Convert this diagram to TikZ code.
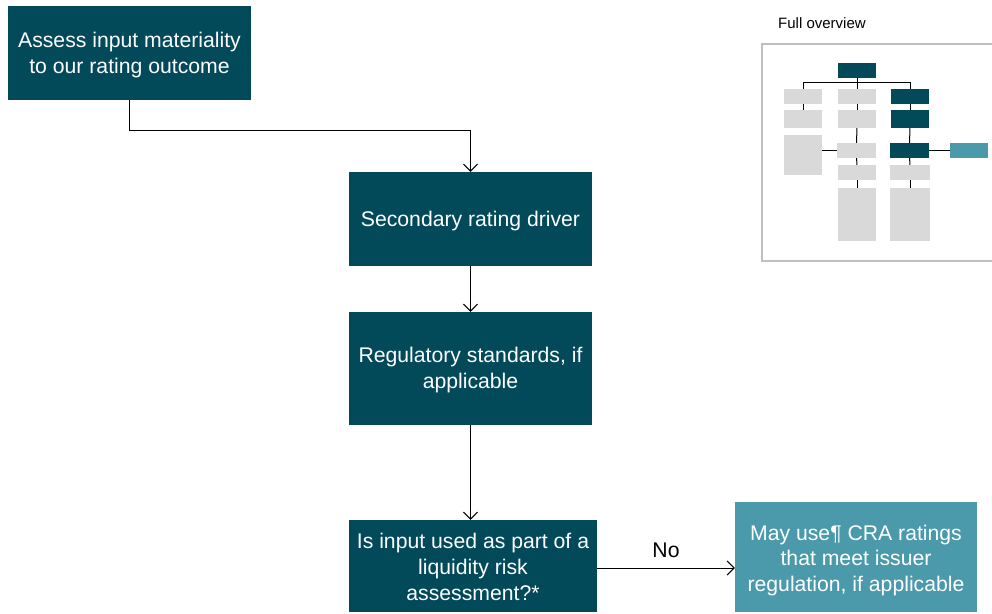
\documentclass[tikz,border=0pt]{standalone}
\usepackage{fontspec}
\setmainfont{Liberation Sans}
\usetikzlibrary{arrows.meta}
\definecolor{dark}{HTML}{02495A}
\definecolor{light}{HTML}{4A9AAB}
\definecolor{gry}{HTML}{D9D9D9}
\definecolor{framec}{HTML}{BFBFBF}
\begin{document}
\begin{tikzpicture}[x=1pt,y=-1pt,
  box/.style={fill=dark, inner sep=0pt},
  txt/.style={text=white, align=center, font=\fontsize{21.2}{25.7}\selectfont, inner sep=0pt},
  arr/.style={-{Straight Barb[length=7pt,width=14pt]}, line width=1pt},
  mini/.style={fill=gry, inner sep=0pt, minimum width=38pt},
  minid/.style={mini, fill=dark},
  link/.style={line width=1pt}]
\useasboundingbox (0,0) rectangle (992,613);
% main flow
\node[box, minimum width=243pt, minimum height=94pt] (A) at (129.5,53) {};
\node[txt] (At) at ([yshift=-2pt]A.center) {Assess input materiality\\to our rating outcome};
\node[box, minimum width=243pt, minimum height=94pt] (B) at (470.5,219) {};
\node[txt] (Bt) at ([yshift=-2pt]B.center) {Secondary rating driver};
\node[box, minimum width=243pt, minimum height=113pt] (C) at (470.5,368.5) {};
\node[txt] (Ct) at ([yshift=-1.5pt]C.center) {Regulatory standards, if\\applicable};
\node[box, minimum width=248pt, minimum height=92pt] (D) at (473,566) {};
\node[txt] (Dt) at ([yshift=-0.8pt]D.center) {Is input used as part of a\\liquidity risk\\assessment?*};
\node[box, fill=light, minimum width=242pt, minimum height=110pt] (E) at (856,557) {};
\node[txt] (Et) at ([yshift=-3.5pt]E.center) {May use¶ CRA ratings\\that meet issuer\\regulation, if applicable};
\draw[arr] (A.south) -- ++(0,30) -| (B.north);
\draw[arr] (B.south) -- (C.north);
\draw[arr] (C.south) -- (C.south |- D.north);
\draw[arr] (D.east |- 0,568) -- (E.west |- 0,568);
\node[font=\fontsize{21.2}{25.7}\selectfont] (no) at (666,550) {No};
% overview
\node[anchor=west, inner sep=0pt, font=\fontsize{15}{18}\selectfont] (ov) at (778,23) {Full overview};
\draw[framec, line width=1.5pt] (762,44) rectangle (996,261);
\node[minid, minimum height=15pt] (t) at (857,70.5) {};
\node[mini, minimum height=15pt] (c1a) at (803,96.5) {};
\node[mini, minimum height=18pt] (c1b) at (803,119) {};
\node[mini, minimum height=40pt] (c1c) at (803,155) {};
\node[mini, minimum height=15pt] (c2a) at (857,96.5) {};
\node[mini, minimum height=18pt] (c2b) at (857,119) {};
\node[mini, minimum width=39pt, minimum height=15pt] (c2c) at (856.5,150.5) {};
\node[mini, minimum height=15pt] (c2d) at (857,172.5) {};
\node[mini, minimum height=53pt] (c2e) at (857,214.5) {};
\node[minid, minimum height=15pt] (c3a) at (910,96.5) {};
\node[minid, minimum height=18pt] (c3b) at (910,119) {};
\node[minid, minimum width=39pt, minimum height=15pt] (c3c) at (909.5,150.5) {};
\node[mini, minimum width=40pt, minimum height=15pt] (c3d) at (910,172.5) {};
\node[mini, minimum width=40pt, minimum height=53pt] (c3e) at (910,214.5) {};
\node[mini, fill=light, minimum height=15pt] (ext) at (969,150.5) {};
\draw[link] (t.south) -- ++(0,4) coordinate (j);
\draw[link] (c1a.north) |- (j) -| (c3a.north);
\draw[link] (j) -- (c2a.north);
\draw[link] (c1a) -- (c1b);
\draw[link] (c2a) -- (c2b);
\draw[link] (c2b) -- (c2c);
\draw[link] (c2c) -- (c2d);
\draw[link] (c2d) -- (c2e);
\draw[link] (c3a) -- (c3b);
\draw[link] (c3b) -- (c3c);
\draw[link] (c3c) -- (c3d);
\draw[link] (c3d) -- (c3e);
\draw[link] (c1c.east |- c2c.west) -- (c2c.west);
\draw[link] (c3c.east) -- (ext.west);
\end{tikzpicture}
\end{document}
